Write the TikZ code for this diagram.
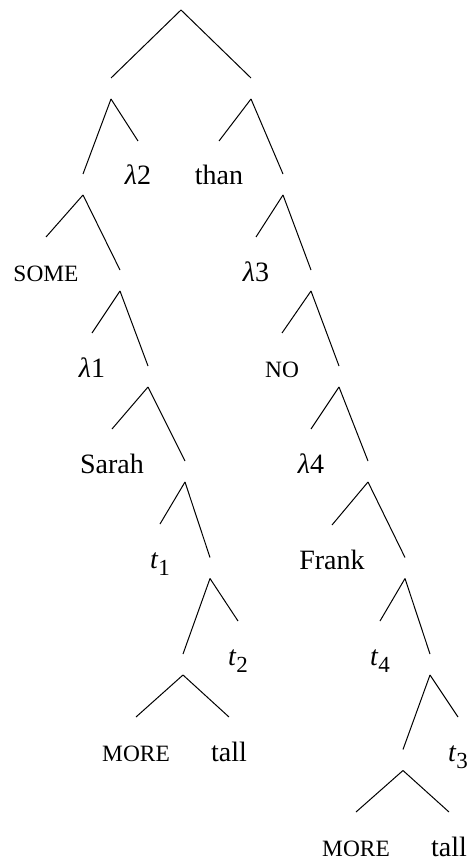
\documentclass[tikz,border=0pt]{standalone}
\usepackage{fontspec}
\setmainfont{Liberation Serif}
\usetikzlibrary{positioning}

\newcommand{\lam}[1]{\textit{λ}#1}
\newcommand{\trc}[1]{\textit{t}\raisebox{-0.28em}{\fontsize{11.5pt}{12pt}\selectfont #1}}

\begin{document}
\begin{tikzpicture}[x=0.5pt, y=-0.5pt, font=\fontsize{14pt}{17pt}\selectfont,
    br/.style={inner sep=0pt, outer sep=0pt, minimum height=10.5pt, minimum width=0pt},
    leaf/.style={inner sep=0pt, outer sep=0pt, text height=22pt, anchor=base},
    sc/.style={leaf, font=\fontsize{11.7pt}{14pt}\selectfont},
    every path/.style={line width=0.5pt}]
    \useasboundingbox (0,0) rectangle (468,861);

    % Branching points
    \node[br] (root) at (181,-0.5) {};
    \node[br] (a) at (111,88.5) {};
    \node[br] (b) at (251,88.5) {};
    \node[br] (c) at (83,184.5) {};
    \node[br] (d) at (283,184.5) {};
    \node[br] (e) at (120,280.5) {};
    \node[br] (f) at (311,280.5) {};
    \node[br] (g) at (148,376.5) {};
    \node[br] (h) at (339,376.5) {};
    \node[br] (i) at (185,471.5) {};
    \node[br] (j) at (368,471.5) {};
    \node[br] (k) at (210,568) {};
    \node[br] (l) at (405,568) {};
    \node[br] (m) at (183,664.5) {};
    \node[br] (n) at (430,664.5) {};
    \node[br] (o) at (403,760) {};

    % Left branch words
    \node[leaf] (lam2) at (138,185) {\lam{2}};
    \node[sc] (some) at (46,281) {SOME};
    \node[leaf] (lam1) at (92,377) {\lam{1}};
    \node[leaf] (sarah) at (112,473) {Sarah};
    \node[leaf] (t1) at (160,568) {\trc{1}};
    \node[leaf] (t2) at (238,665) {\trc{2}};
    \node[sc] (more1) at (136,761) {MORE};
    \node[leaf] (tall1) at (229,761) {tall};

    % Right branch words
    \node[leaf] (than) at (219,185) {than};
    \node[leaf] (lam3) at (256,281) {\lam{3}};
    \node[sc] (no) at (282,377) {NO};
    \node[leaf] (lam4) at (311,473) {\lam{4}};
    \node[leaf] (frank) at (332,569) {Frank};
    \node[leaf] (t4) at (380,665) {\trc{4}};
    \node[leaf] (t3) at (458,761) {\trc{3}};
    \node[sc] (more2) at (356,856) {MORE};
    \node[leaf] (tall2) at (449,856) {tall};

    % Edges
    \draw (root.south) -- (a.north); \draw (root.south) -- (b.north);
    \draw (a.south) -- (c.north); \draw (a.south) -- (lam2.north);
    \draw (b.south) -- (than.north); \draw (b.south) -- (d.north);
    \draw (c.south) -- (some.north); \draw (c.south) -- (e.north);
    \draw (d.south) -- (lam3.north); \draw (d.south) -- (f.north);
    \draw (e.south) -- (lam1.north); \draw (e.south) -- (g.north);
    \draw (f.south) -- (no.north); \draw (f.south) -- (h.north);
    \draw (g.south) -- (sarah.north); \draw (g.south) -- (i.north);
    \draw (h.south) -- (lam4.north); \draw (h.south) -- (j.north);
    \draw (i.south) -- (t1.north); \draw (i.south) -- (k.north);
    \draw (j.south) -- (frank.north); \draw (j.south) -- (l.north);
    \draw (k.south) -- (m.north); \draw (k.south) -- (t2.north);
    \draw (l.south) -- (t4.north); \draw (l.south) -- (n.north);
    \draw (m.south) -- (more1.north); \draw (m.south) -- (tall1.north);
    \draw (n.south) -- (o.north); \draw (n.south) -- (t3.north);
    \draw (o.south) -- (more2.north); \draw (o.south) -- (tall2.north);
\end{tikzpicture}
\end{document}
